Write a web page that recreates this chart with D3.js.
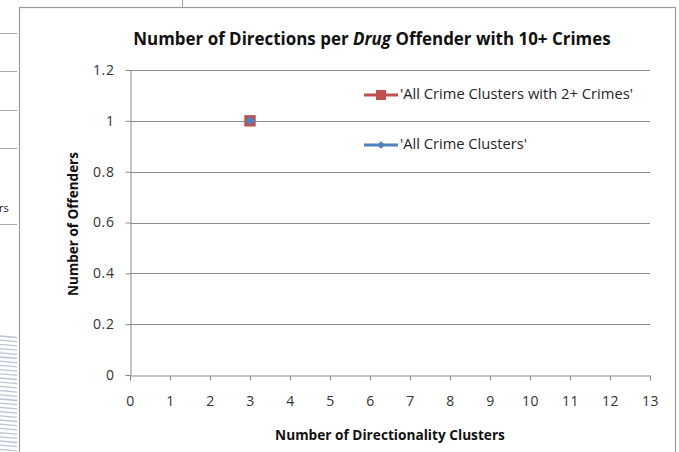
<!DOCTYPE html>
<html>
<head>
<meta charset="utf-8">
<script src="https://cdn.jsdelivr.net/npm/d3@7"></script>
<style>
  html, body { margin: 0; padding: 0; background: #fff; }
  svg { display: block; font-family: "Open Sans", "Noto Sans", "Liberation Sans", sans-serif; }
</style>
</head>
<body>
<svg id="chart" width="679" height="452"></svg>
<script>
// Data
const seriesNames = ["'All Crime Clusters with 2+ Crimes'", "'All Crime Clusters'"];
const seriesColors = ["#c0504d", "#4f81bd"];
const clustersWith2Plus = [{ x: 3, y: 1 }];
const allClusters = [{ x: 3, y: 1 }];
const xTicks = d3.range(0, 14);
const yTicks = [0, 0.2, 0.4, 0.6, 0.8, 1, 1.2];

const svg = d3.select("#chart");

// Scale a text's font size so it spans the given width
function fitWidth(sel, width) {
  const node = sel.node();
  const fs = parseFloat(sel.attr("font-size"));
  const w = node.getComputedTextLength();
  sel.attr("font-size", (fs * width / w).toFixed(2));
  return sel;
}

// Surrounding sheet fragments at the left edge
const sheet = svg.append("g");
[33, 71, 110, 148, 224].forEach(y => {
  sheet.append("line").attr("x1", 0).attr("x2", 17).attr("y1", y + 0.5).attr("y2", y + 0.5)
    .attr("stroke", "#a6a6a6").attr("stroke-width", 1);
});
sheet.append("text").attr("x", -1).attr("y", 212).attr("font-size", 11).attr("fill", "#222").text("rs");
for (let y = 336; y < 452; y += 4.2) {
  sheet.append("line").attr("x1", 0).attr("x2", 17).attr("y1", y).attr("y2", y + 1.5)
    .attr("stroke", "#b8c4d6").attr("stroke-width", 1.3);
}
sheet.append("line").attr("x1", 182.5).attr("x2", 182.5).attr("y1", 0).attr("y2", 7)
  .attr("stroke", "#a6a6a6");

// Chart frame
svg.append("rect").attr("x", 19.5).attr("y", 7.5).attr("width", 656).attr("height", 460)
  .attr("fill", "#fff").attr("stroke", "#9a9a9a").attr("stroke-width", 1.2);

// Scales
const x = d3.scaleLinear().domain([0, 13]).range([130, 650]);
const y = d3.scaleLinear().domain([0, 1.2]).range([375, 70]);

// Gridlines
svg.append("g").selectAll("line").data(yTicks.filter(d => d > 0)).join("line")
  .attr("x1", x(0)).attr("x2", x(13))
  .attr("y1", d => Math.round(y(d)) + 0.5).attr("y2", d => Math.round(y(d)) + 0.5)
  .attr("stroke", "#8c8c8c").attr("stroke-width", 1);

const tickFont = "'Open Sans', 'Noto Sans', sans-serif";

// Y axis
const yAxis = svg.append("g").attr("transform", `translate(${x(0) + 0.5},0)`)
  .call(d3.axisLeft(y).tickValues(yTicks).tickSize(5).tickPadding(11).tickFormat(d3.format("~g")));
yAxis.select(".domain").attr("stroke", "#8c8c8c");
yAxis.selectAll(".tick line").attr("stroke", "#8c8c8c");
yAxis.selectAll(".tick text").attr("font-size", 14).attr("fill", "#333")
  .attr("letter-spacing", 0.6).attr("font-family", tickFont);

// X axis
const xAxis = svg.append("g").attr("transform", `translate(0,${Math.round(y(0)) + 0.5})`)
  .call(d3.axisBottom(x).tickValues(xTicks).tickSize(5).tickPadding(16).tickFormat(d3.format("d")));
xAxis.select(".domain").attr("stroke", "#8c8c8c");
xAxis.selectAll(".tick line").attr("stroke", "#8c8c8c");
xAxis.selectAll(".tick text").attr("font-size", 14).attr("fill", "#333")
  .attr("letter-spacing", 0.6).attr("font-family", tickFont);

// Title
const title = svg.append("text").attr("x", 372).attr("y", 45).attr("text-anchor", "middle")
  .attr("font-size", 15).attr("font-weight", "bold").attr("fill", "#111");
title.append("tspan").text("Number of Directions per ");
title.append("tspan").attr("font-style", "italic").text("Drug");
title.append("tspan").text(" Offender with 10+ Crimes");
fitWidth(title, 478);

// Axis titles
fitWidth(svg.append("text").attr("x", 390).attr("y", 440).attr("text-anchor", "middle")
  .attr("font-size", 12).attr("font-weight", "bold").attr("fill", "#111")
  .text("Number of Directionality Clusters"), 230);
fitWidth(svg.append("text").attr("transform", `translate(78,224) rotate(-90)`).attr("text-anchor", "middle")
  .attr("font-size", 12).attr("font-weight", "bold").attr("fill", "#111")
  .text("Number of Offenders"), 144);

// Series lines and markers
const line = d3.line().x(d => x(d.x)).y(d => y(d.y));
svg.append("path").datum(clustersWith2Plus).attr("d", line).attr("fill", "none")
  .attr("stroke", seriesColors[0]).attr("stroke-width", 2.5);
svg.append("g").selectAll("path").data(clustersWith2Plus).join("path")
  .attr("transform", d => `translate(${x(d.x)},${y(d.y)})`)
  .attr("d", d3.symbol(d3.symbolSquare, 130)())
  .attr("fill", seriesColors[0]);
svg.append("path").datum(allClusters).attr("d", line).attr("fill", "none")
  .attr("stroke", seriesColors[1]).attr("stroke-width", 2.5);
svg.append("g").selectAll("path").data(allClusters).join("path")
  .attr("transform", d => `translate(${x(d.x)},${y(d.y)}) rotate(45)`)
  .attr("d", d3.symbol(d3.symbolSquare, 45)())
  .attr("fill", seriesColors[1]);

// Legend
const legendY = [95, 145];
const legendWidths = [233, 127];
const legend = svg.append("g");
seriesNames.forEach((name, i) => {
  const g = legend.append("g").attr("transform", `translate(364,${legendY[i]})`);
  g.append("line").attr("x1", 0).attr("x2", 34).attr("y1", 0).attr("y2", 0)
    .attr("stroke", seriesColors[i]).attr("stroke-width", 3);
  if (i === 0) {
    g.append("path").attr("transform", "translate(17,0)")
      .attr("d", d3.symbol(d3.symbolSquare, 100)()).attr("fill", seriesColors[i]);
  } else {
    g.append("path").attr("transform", "translate(17,0) rotate(45)")
      .attr("d", d3.symbol(d3.symbolSquare, 30)()).attr("fill", seriesColors[i]);
  }
  fitWidth(g.append("text").attr("x", 36).attr("y", 4).attr("font-size", 11).attr("fill", "#262626")
    .text(name), legendWidths[i]);
});
</script>
</body>
</html>
